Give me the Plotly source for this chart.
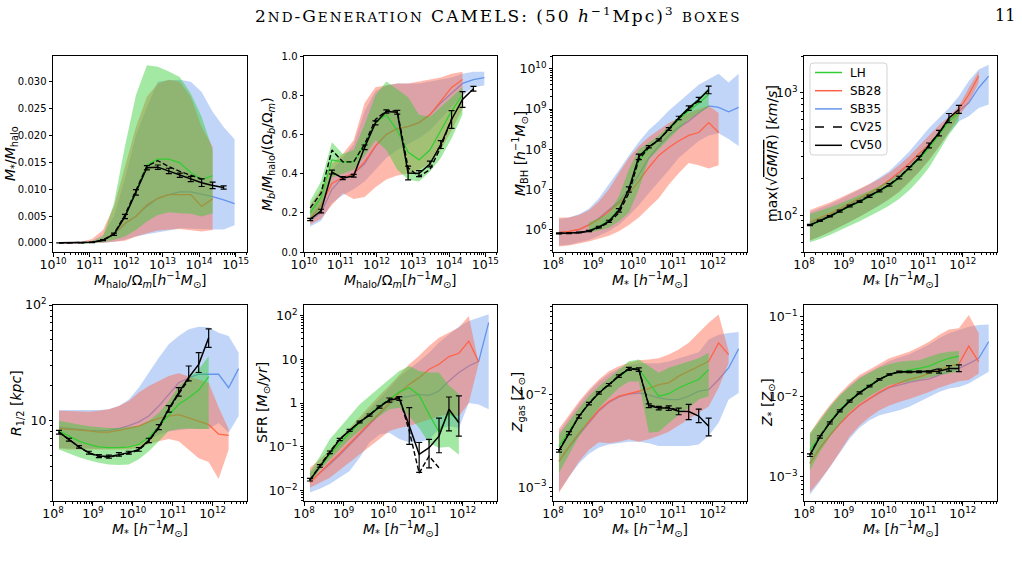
import plotly.graph_objects as go

W, H = 1022, 571

# ---------------- bins ----------------
HALO_BINS = [1.48e10, 2.95e10, 5.89e10, 1.17e11, 2.34e11, 4.68e11, 9.33e11, 1.86e12, 3.72e12,
             7.41e12, 1.48e13, 2.95e13, 5.89e13, 1.17e14, 2.34e14, 4.68e14, 9.33e14]
MSTAR_BINS = [1.41e8, 2.51e8, 4.47e8, 7.94e8, 1.41e9, 2.51e9, 4.47e9, 7.94e9, 1.41e10, 2.51e10,
              4.47e10, 7.94e10, 1.41e11, 2.51e11, 4.47e11, 7.94e11, 1.41e12, 2.51e12, 4.47e12]

# ---------------- panel 1: M*/Mhalo ----------------
p1_cv50 = [0.0, 0.0, 0.0, 0.0001, 0.0005, 0.0016, 0.0049, 0.0094, 0.0140, 0.0141, 0.0134, 0.0126, 0.0119, 0.0112, 0.0107, 0.0103]
p1_cv50_lo = [0.0, 0.0, 0.0, 0.00005, 0.0004, 0.0014, 0.0045, 0.0089, 0.0136, 0.0137, 0.0129, 0.0122, 0.0114, 0.0105, 0.0101, 0.0100]
p1_cv50_hi = [0.0, 0.0, 0.0, 0.00015, 0.0006, 0.0018, 0.0053, 0.0099, 0.0144, 0.0145, 0.0139, 0.0130, 0.0124, 0.0119, 0.0113, 0.0106]
p1_cv25 = [0.0, 0.0, 0.0, 0.0001, 0.0005, 0.0017, 0.0052, 0.0098, 0.0143, 0.0153, 0.0142, 0.0133, 0.0126, 0.0119]
p1_lh_mid = [None, None, 0.0, 0.0001, 0.0005, 0.0016, 0.0050, 0.0096, 0.0145, 0.0156, 0.0156, 0.0149, 0.0131, 0.0118, 0.0125]
p1_lh_lo = [None, None, 0.0, 0.0, 0.0001, 0.0006, 0.0012, 0.0024, 0.0040, 0.0052, 0.0057, 0.0055, 0.0054, 0.0049, 0.0055]
p1_lh_hi = [None, None, 0.0001, 0.0003, 0.0012, 0.0074, 0.0180, 0.0275, 0.0331, 0.0328, 0.0319, 0.0309, 0.0278, 0.0235, 0.0173]
p1_sb28_mid = [0.0, 0.0, 0.0, 0.0001, 0.0005, 0.0018, 0.0037, 0.0049, 0.0071, 0.0083, 0.0090, 0.0090, 0.0090, 0.0068, 0.0082]
p1_sb28_lo = [0.0, 0.0, 0.0, 0.0, 0.0, 0.0002, 0.0004, 0.0012, 0.0018, 0.0023, 0.0025, 0.0026, 0.0024, 0.0021, 0.0024]
p1_sb28_hi = [0.0, 0.0001, 0.0002, 0.0007, 0.0024, 0.0068, 0.0142, 0.0216, 0.0272, 0.0297, 0.0304, 0.0300, 0.0272, 0.0216, 0.0179]
p1_sb35_mid = [0.0, 0.0, 0.0, 0.0001, 0.0005, 0.0015, 0.0035, 0.0050, 0.0068, 0.0083, 0.0090, 0.0095, 0.0095, 0.0091, 0.0086, 0.0080, 0.0073]
p1_sb35_lo = [0.0, 0.0, 0.0, 0.0, 0.0, 0.0002, 0.0006, 0.0012, 0.0016, 0.0020, 0.0023, 0.0027, 0.0027, 0.0026, 0.0025, 0.0025, 0.0033]
p1_sb35_hi = [0.0, 0.0, 0.0001, 0.0004, 0.0015, 0.0050, 0.0120, 0.0200, 0.0253, 0.0300, 0.0303, 0.0304, 0.0300, 0.0281, 0.0244, 0.0216, 0.0193]

# ---------------- panel 2: baryon fraction ----------------
p2_cv50 = [0.167, 0.210, 0.408, 0.377, 0.389, 0.534, 0.659, 0.717, 0.713, 0.403, 0.400, 0.449, 0.548, 0.676, 0.778, 0.833]
p2_cv50_lo = [0.160, 0.200, 0.398, 0.369, 0.382, 0.522, 0.649, 0.709, 0.703, 0.368, 0.385, 0.434, 0.528, 0.631, 0.738, 0.821]
p2_cv50_hi = [0.172, 0.218, 0.418, 0.385, 0.396, 0.546, 0.669, 0.725, 0.723, 0.438, 0.415, 0.464, 0.568, 0.721, 0.818, 0.845]
p2_cv25 = [0.225, 0.300, 0.520, 0.460, 0.460, 0.550, 0.676, 0.720, 0.720, 0.430, 0.385, 0.420, 0.535, 0.680]
p2_lh_mid = [0.20, 0.28, 0.47, 0.46, 0.46, 0.55, 0.66, 0.70, 0.62, 0.51, 0.47, 0.52, 0.62, 0.72, 0.80]
p2_lh_lo = [0.15, 0.22, 0.38, 0.40, 0.42, 0.49, 0.57, 0.52, 0.42, 0.37, 0.36, 0.41, 0.48, 0.58, 0.70]
p2_lh_hi = [0.26, 0.36, 0.56, 0.50, 0.52, 0.65, 0.80, 0.87, 0.83, 0.79, 0.70, 0.69, 0.74, 0.79, 0.84]
p2_sb28_mid = [0.17, 0.24, 0.35, 0.38, 0.40, 0.46, 0.54, 0.60, 0.63, 0.64, 0.66, 0.70, 0.77, 0.84, 0.88]
p2_sb28_lo = [0.14, 0.17, 0.24, 0.30, 0.27, 0.28, 0.33, 0.37, 0.39, 0.40, 0.42, 0.45, 0.52, 0.62, 0.73]
p2_sb28_hi = [0.24, 0.32, 0.45, 0.50, 0.57, 0.76, 0.84, 0.85, 0.86, 0.86, 0.87, 0.88, 0.89, 0.91, 0.92]
p2_sb35_mid = [0.16, 0.20, 0.32, 0.38, 0.40, 0.45, 0.54, 0.60, 0.63, 0.64, 0.66, 0.70, 0.76, 0.81, 0.86, 0.88, 0.89]
p2_sb35_lo = [0.13, 0.16, 0.25, 0.29, 0.32, 0.36, 0.42, 0.48, 0.52, 0.55, 0.58, 0.62, 0.68, 0.74, 0.80, 0.84, 0.85]
p2_sb35_hi = [0.22, 0.28, 0.42, 0.48, 0.55, 0.72, 0.82, 0.85, 0.86, 0.86, 0.86, 0.87, 0.88, 0.89, 0.91, 0.92, 0.92]

# ---------------- panel 3: M_BH ----------------
p3_cv50 = [8.0e5, 8.1e5, 8.4e5, 9.2e5, 1.15e6, 1.6e6, 3.0e6, 1.0e7, 6.5e7, 1.15e8, 1.7e8, 3.2e8, 6.0e8, 1.05e9, 1.7e9, 3.0e9]
p3_cv50_lo = [7.8e5, 7.9e5, 8.2e5, 8.9e5, 1.1e6, 1.5e6, 2.7e6, 8.5e6, 5.5e7, 1.08e8, 1.6e8, 2.95e8, 5.4e8, 9.2e8, 1.5e9, 2.4e9]
p3_cv50_hi = [8.2e5, 8.3e5, 8.6e5, 9.5e5, 1.2e6, 1.7e6, 3.3e6, 1.15e7, 7.5e7, 1.22e8, 1.8e8, 3.45e8, 6.6e8, 1.2e9, 1.95e9, 3.7e9]
p3_cv25 = [8.0e5, 8.1e5, 8.4e5, 9.0e5, 1.1e6, 1.5e6, 2.6e6, 8.0e6, 5.5e7, 1.1e8, 1.7e8, 3.1e8, 5.8e8, 1.0e9, 1.6e9]
p3_lh_mid = [None, None, None, 9.5e5, 1.2e6, 1.7e6, 3.2e6, 9.5e6, 5.0e7, 1.1e8, 1.7e8, 3.0e8, 5.5e8, 9.0e8, 1.4e9, 2.3e9]
p3_lh_lo = [None, None, None, 8.3e5, 9.5e5, 1.1e6, 1.6e6, 2.6e6, 1.0e7, 5.5e7, 1.0e8, 1.8e8, 3.2e8, 5.5e8, 8.0e8, 1.1e9]
p3_lh_hi = [None, None, None, 1.5e6, 1.9e6, 2.6e6, 6.7e6, 3.1e7, 1.0e8, 1.45e8, 2.2e8, 3.8e8, 6.8e8, 1.15e9, 1.9e9, 3.4e9]
p3_sb28_mid = [8.5e5, 9.0e5, 1.0e6, 1.3e6, 1.8e6, 2.8e6, 4.5e6, 8.0e6, 1.6e7, 3.5e7, 7.0e7, 1.1e8, 1.6e8, 2.2e8, 2.6e8, 4.6e8, 2.6e8]
p3_sb28_lo = [3.8e5, 4.0e5, 4.5e5, 5.0e5, 6.0e5, 7.0e5, 9.0e5, 1.3e6, 2.0e6, 3.5e6, 6.0e6, 1.3e7, 2.5e7, 4.5e7, 4.0e7, 3.3e7, 4.0e7]
p3_sb28_hi = [2.0e6, 2.0e6, 2.3e6, 3.0e6, 5.0e6, 1.0e7, 2.5e7, 6.0e7, 1.2e8, 2.0e8, 3.0e8, 4.5e8, 6.0e8, 8.0e8, 1.0e9, 1.2e9, 8.0e8]
p3_sb35_mid = [8.5e5, 9.0e5, 1.0e6, 1.3e6, 1.9e6, 3.0e6, 5.0e6, 1.0e7, 2.3e7, 6.0e7, 1.2e8, 2.2e8, 3.5e8, 5.0e8, 8.0e8, 1.2e9, 1.1e9, 8.5e8, 1.1e9]
p3_sb35_lo = [4.0e5, 4.2e5, 4.8e5, 5.5e5, 7.0e5, 9.0e5, 1.3e6, 2.2e6, 4.0e6, 8.0e6, 1.5e7, 3.0e7, 6.0e7, 1.0e8, 1.6e8, 2.2e8, 2.5e8, 1.8e8, 1.2e8]
p3_sb35_hi = [1.8e6, 2.0e6, 2.4e6, 3.3e6, 6.0e6, 1.3e7, 3.0e7, 7.0e7, 1.5e8, 3.0e8, 5.0e8, 9.0e8, 1.5e9, 2.5e9, 4.0e9, 5.5e9, 7.5e9, 4.6e9, 7.5e9]

# ---------------- panel 4: Vmax ----------------
p4_cv50 = [83, 90, 98, 108, 119, 129, 143, 158, 177, 203, 242, 293, 372, 469, 624, 730]
p4_cv50_lo = [82, 89, 97, 106, 117, 127, 140, 155, 173, 198, 235, 283, 355, 445, 570, 680]
p4_cv50_hi = [84, 91, 99, 110, 121, 131, 146, 161, 181, 208, 249, 303, 389, 493, 678, 790]
p4_cv25 = [83, 90, 98, 108, 119, 130, 144, 159, 178, 205, 244, 296, 375, 470, 610]
p4_lh_mid = [82, 89, 97, 107, 117, 128, 141, 156, 174, 200, 238, 288, 353, 455, 585, 685]
p4_lh_lo = [60, 64, 69, 75, 82, 89, 98, 108, 120, 136, 160, 195, 245, 330, 455, 585]
p4_lh_hi = [102, 108, 116, 124, 134, 145, 158, 173, 192, 218, 255, 310, 385, 490, 620, 710]
p4_sb28_mid = [88, 95, 103, 113, 125, 137, 151, 168, 194, 225, 266, 320, 376, 469, 585, 730, 969, 1371]
p4_sb28_lo = [62, 67, 73, 80, 88, 97, 108, 120, 135, 155, 185, 225, 280, 360, 480, 640, 830, 1210]
p4_sb28_hi = [110, 118, 127, 138, 150, 164, 180, 198, 222, 257, 305, 370, 450, 545, 640, 780, 1100, 1500]
p4_sb35_mid = [86, 93, 101, 111, 122, 135, 150, 168, 192, 222, 262, 315, 380, 470, 590, 708, 828, 1100, 1371]
p4_sb35_lo = [62, 67, 73, 80, 88, 97, 108, 120, 136, 157, 188, 228, 285, 365, 470, 585, 643, 753, 802]
p4_sb35_hi = [106, 114, 123, 134, 147, 162, 180, 202, 230, 274, 331, 413, 515, 624, 753, 939, 1247, 1550, 1700]

# ---------------- panel 5: R1/2 ----------------
p5_cv50 = [7.9, 6.8, 5.9, 5.25, 4.9, 4.85, 5.07, 5.25, 5.6, 6.7, 8.75, 12.6, 17.4, 23.5, 30.6, 52.0]
p5_cv50_lo = [7.6, 6.6, 5.75, 5.1, 4.75, 4.7, 4.9, 5.1, 5.4, 6.4, 8.3, 11.8, 16.2, 22.0, 26.0, 43.0]
p5_cv50_hi = [8.2, 7.0, 6.05, 5.4, 5.05, 5.0, 5.25, 5.4, 5.8, 7.0, 9.2, 13.4, 19.2, 29.6, 38.6, 62.0]
p5_cv25 = [7.9, 6.8, 5.9, 5.2, 4.85, 4.8, 5.0, 5.2, 5.5, 6.6, 8.6, 12.3, 17.0, 22.5]
p5_lh_mid = [8.1, 7.3, 6.6, 6.2, 5.9, 5.8, 5.8, 5.9, 6.2, 7.1, 8.9, 10.9, 13.8, 15.7, 18.3, 23.9]
p5_lh_lo = [5.6, 5.2, 4.8, 4.5, 4.3, 4.15, 4.1, 4.15, 4.6, 5.4, 6.6, 8.1, 8.4, 8.5, 8.4, 8.4]
p5_lh_hi = [9.9, 9.5, 9.2, 8.9, 8.75, 8.6, 8.6, 8.75, 9.0, 9.9, 11.6, 14.7, 19.9, 23.5, 27.7, 36.0]
p5_sb28_mid = [8.5, 8.4, 8.2, 8.1, 7.9, 7.9, 8.2, 8.5, 8.9, 9.7, 10.4, 10.9, 11.2, 10.5, 9.9, 9.2, 7.6, 7.4]
p5_sb28_lo = [5.7, 5.6, 5.6, 5.6, 5.6, 5.6, 5.6, 5.6, 5.8, 6.2, 6.6, 6.9, 6.6, 5.6, 4.7, 4.35, 3.1, 5.6]
p5_sb28_hi = [12.1, 12.0, 11.9, 11.9, 12.1, 12.5, 13.3, 14.7, 17.4, 19.9, 21.9, 24.2, 25.6, 24.2, 22.6, 21.2, 13.0, 8.4]
p5_sb35_mid = [8.7, 8.5, 8.3, 8.2, 8.1, 8.2, 8.5, 9.0, 9.7, 10.9, 13.3, 16.8, 21.2, 23.4, 25.1, 25.1, 25.1, 19.2, 28.1]
p5_sb35_lo = [5.8, 5.7, 5.7, 5.7, 5.7, 5.7, 5.8, 6.0, 6.3, 6.8, 7.5, 8.0, 8.2, 8.4, 8.4, 8.4, 9.5, 7.8, 10.9]
p5_sb35_hi = [12.3, 12.3, 12.3, 12.3, 12.3, 12.5, 13.3, 15.2, 19.2, 25.9, 34.9, 45.6, 53.9, 61.5, 64.9, 64.0, 57.5, 53.9, 38.6]

# ---------------- panel 6: SFR ----------------
p6_cv50 = [0.0173, 0.036, 0.075, 0.147, 0.237, 0.367, 0.53, 0.81, 1.17, 1.26, 0.30, 0.067, 0.095, 0.175, 0.72, 0.355]
p6_cv50_lo = [0.0165, 0.034, 0.070, 0.138, 0.225, 0.35, 0.50, 0.76, 1.05, 1.15, 0.113, 0.026, 0.033, 0.073, 0.23, 0.175]
p6_cv50_hi = [0.019, 0.039, 0.080, 0.156, 0.25, 0.385, 0.56, 0.86, 1.3, 1.4, 0.78, 0.125, 0.147, 0.45, 1.37, 1.45]
p6_cv25 = [0.0175, 0.037, 0.077, 0.15, 0.24, 0.37, 0.54, 0.83, 1.2, 1.35, 0.23, 0.025, 0.061, 0.033]
p6_lh_mid = [0.0173, 0.034, 0.065, 0.12, 0.21, 0.35, 0.55, 0.86, 1.2, 1.8, 2.24, 1.5, 0.55, 0.22, 0.6, 0.4]
p6_lh_lo = [0.015, 0.030, 0.051, 0.087, 0.148, 0.23, 0.35, 0.5, 0.72, 0.78, 0.5, 0.27, 0.12, 0.095, 0.1, 0.066]
p6_lh_hi = [0.027, 0.06, 0.148, 0.27, 0.5, 0.93, 1.45, 2.2, 3.5, 5.4, 7.0, 5.4, 5.0, 5.0, 2.5, 1.6]
p6_sb28_mid = [0.015, 0.026, 0.043, 0.07, 0.12, 0.2, 0.35, 0.58, 1.0, 1.7, 2.67, 3.8, 5.9, 7.7, 11.5, 13.7, 26.0, 8.7]
p6_sb28_lo = [0.0115, 0.015, 0.0195, 0.029, 0.043, 0.065, 0.1, 0.15, 0.23, 0.27, 0.3, 0.35, 0.42, 0.5, 0.55, 0.5, 1.0, 8.0]
p6_sb28_hi = [0.033, 0.052, 0.087, 0.16, 0.27, 0.48, 0.85, 1.5, 2.5, 4.5, 7.7, 12.0, 20.0, 31.0, 41.0, 53.0, 98.0, 9.5]
p6_sb35_mid = [0.016, 0.025, 0.04, 0.065, 0.11, 0.19, 0.33, 0.55, 0.95, 1.3, 1.45, 1.58, 1.5, 1.88, 3.2, 5.0, 7.0, 9.0, 69.0]
p6_sb35_lo = [0.009, 0.011, 0.014, 0.02, 0.028, 0.056, 0.125, 0.19, 0.21, 0.15, 0.125, 0.125, 0.147, 0.25, 0.3, 0.27, 1.0, 0.93, 0.72]
p6_sb35_hi = [0.025, 0.042, 0.07, 0.13, 0.22, 0.4, 0.7, 1.2, 2.2, 4.0, 5.9, 9.0, 14.0, 24.0, 37.0, 55.0, 75.0, 90.0, 107.0]

# ---------------- panel 7: Z_gas ----------------
p7_cv50 = [0.00248, 0.00386, 0.00586, 0.00805, 0.0105, 0.0129, 0.016, 0.0192, 0.0188, 0.00765, 0.00722, 0.0072, 0.00664, 0.0066, 0.0059, 0.00457]
p7_cv50_lo = [0.0024, 0.0037, 0.0056, 0.0078, 0.0102, 0.0125, 0.0155, 0.0185, 0.018, 0.0073, 0.0069, 0.0068, 0.0061, 0.0054, 0.0050, 0.0036]
p7_cv50_hi = [0.00256, 0.0040, 0.0061, 0.0083, 0.0108, 0.0133, 0.0165, 0.0199, 0.0196, 0.0080, 0.0075, 0.0076, 0.0072, 0.0079, 0.0070, 0.0056]
p7_cv25 = [0.0025, 0.0039, 0.0059, 0.0081, 0.0106, 0.013, 0.0162, 0.0193, 0.019, 0.0078, 0.0073, 0.0073, 0.0068]
p7_lh_mid = [0.00277, 0.0040, 0.0059, 0.0081, 0.0105, 0.0129, 0.0158, 0.0189, 0.019, 0.0135, 0.0097, 0.0103, 0.0119, 0.0133, 0.0147, 0.0188]
p7_lh_lo = [0.00142, 0.00225, 0.00356, 0.0052, 0.0072, 0.0093, 0.0119, 0.014, 0.014, 0.0039, 0.004, 0.005, 0.0061, 0.0072, 0.0089, 0.0097]
p7_lh_hi = [0.0037, 0.0052, 0.0072, 0.0097, 0.0124, 0.0153, 0.0188, 0.0232, 0.0242, 0.0205, 0.0174, 0.0197, 0.0214, 0.0232, 0.025, 0.0286]
p7_sb28_mid = [0.0019, 0.00277, 0.00386, 0.0052, 0.0069, 0.0085, 0.0097, 0.0103, 0.011, 0.0117, 0.0129, 0.0135, 0.016, 0.0181, 0.0205, 0.0232, 0.0367, 0.0274]
p7_sb28_lo = [0.00087, 0.0013, 0.0019, 0.00255, 0.00306, 0.003, 0.0031, 0.0033, 0.0031, 0.0033, 0.0036, 0.004, 0.0046, 0.0054, 0.0064, 0.0075, 0.012, 0.022]
p7_sb28_hi = [0.0043, 0.0061, 0.0085, 0.0114, 0.0147, 0.0181, 0.0205, 0.0223, 0.0238, 0.0242, 0.025, 0.0274, 0.0311, 0.0367, 0.0472, 0.0607, 0.0747, 0.030]
p7_sb35_mid = [0.0019, 0.0027, 0.0037, 0.005, 0.0067, 0.0083, 0.0095, 0.0102, 0.0105, 0.0100, 0.0093, 0.0089, 0.0089, 0.0097, 0.011, 0.0114, 0.0147, 0.0196, 0.0316]
p7_sb35_lo = [0.0009, 0.0013, 0.0018, 0.0023, 0.0027, 0.0029, 0.003, 0.0031, 0.0031, 0.003, 0.0028, 0.0028, 0.0028, 0.0028, 0.0029, 0.0036, 0.005, 0.0089, 0.0105]
p7_sb35_hi = [0.004, 0.0057, 0.008, 0.0108, 0.014, 0.017, 0.0195, 0.021, 0.022, 0.022, 0.022, 0.023, 0.025, 0.027, 0.029, 0.040, 0.045, 0.047, 0.048]

# ---------------- panel 8: Z_* ----------------
p8_cv50 = [0.00187, 0.00316, 0.00473, 0.00668, 0.00883, 0.0112, 0.0136, 0.0165, 0.019, 0.0205, 0.0205, 0.0205, 0.0205, 0.0209, 0.0226, 0.0226]
p8_cv50_lo = [0.0018, 0.00305, 0.00458, 0.0065, 0.0086, 0.0109, 0.0133, 0.0161, 0.0186, 0.0201, 0.0201, 0.0200, 0.0199, 0.0198, 0.0209, 0.0206]
p8_cv50_hi = [0.00194, 0.00327, 0.00488, 0.00686, 0.0091, 0.0115, 0.0139, 0.0169, 0.0194, 0.0209, 0.0209, 0.0210, 0.0211, 0.0222, 0.0245, 0.0250]
p8_cv25 = [0.0019, 0.0032, 0.0048, 0.0067, 0.0089, 0.0113, 0.0137, 0.0166, 0.0191, 0.0206, 0.0206, 0.0207, 0.0208, 0.0226]
p8_lh_mid = [0.00215, 0.0033, 0.0049, 0.0069, 0.0091, 0.0115, 0.014, 0.0165, 0.0192, 0.0205, 0.0215, 0.0226, 0.0242, 0.0274, 0.0302, 0.0323]
p8_lh_lo = [0.00121, 0.00205, 0.00316, 0.0046, 0.0065, 0.0083, 0.0102, 0.0121, 0.014, 0.0149, 0.0154, 0.0162, 0.0174, 0.0187, 0.0196, 0.0205]
p8_lh_hi = [0.0035, 0.0051, 0.0075, 0.0105, 0.0133, 0.017, 0.02, 0.0233, 0.0256, 0.0274, 0.0282, 0.0287, 0.0316, 0.0348, 0.0365, 0.0372]
p8_sb28_mid = [0.00147, 0.0023, 0.0033, 0.0046, 0.0062, 0.0079, 0.0095, 0.0115, 0.0133, 0.0149, 0.0165, 0.0178, 0.0196, 0.022, 0.0242, 0.0256, 0.043, 0.0274]
p8_sb28_lo = [0.00065, 0.00091, 0.00133, 0.00205, 0.0032, 0.0044, 0.0056, 0.0068, 0.0078, 0.0086, 0.0094, 0.0103, 0.0115, 0.013, 0.0143, 0.0156, 0.0162, 0.0196]
p8_sb28_hi = [0.0035, 0.0054, 0.0079, 0.011, 0.0147, 0.0187, 0.022, 0.0256, 0.0302, 0.0332, 0.0365, 0.042, 0.0487, 0.059, 0.0694, 0.0715, 0.105, 0.062]
p8_sb35_mid = [0.0015, 0.0023, 0.0033, 0.0046, 0.0061, 0.0078, 0.0094, 0.0112, 0.013, 0.0142, 0.0152, 0.016, 0.0168, 0.0187, 0.0205, 0.0226, 0.026, 0.0302, 0.0487]
p8_sb35_lo = [0.0006, 0.00088, 0.0013, 0.002, 0.003, 0.0041, 0.0051, 0.0059, 0.0064, 0.0068, 0.0075, 0.0087, 0.01, 0.0115, 0.0127, 0.0133, 0.0147, 0.0174, 0.0205]
p8_sb35_hi = [0.0033, 0.005, 0.0074, 0.0103, 0.0138, 0.0175, 0.0205, 0.024, 0.028, 0.031, 0.034, 0.039, 0.045, 0.054, 0.062, 0.068, 0.075, 0.079, 0.080]

# ---------------- legend ----------------
LEGEND_LABELS = ["LH", "SB28", "SB35", "CV25", "CV50"]

# ---------------- styling ----------------
LH_LINE, LH_FILL = "#32cd32", "rgba(50,205,50,0.45)"
SB28_LINE, SB28_FILL = "#ff6347", "rgba(255,99,71,0.45)"
SB35_LINE, SB35_FILL = "#6495ed", "rgba(100,149,237,0.40)"
FONT = "DejaVu Sans"
DASH = "5px,2.5px"

MSTAR_TITLE = "<i>M</i><sub>*</sub> [<i>h</i><sup>−1</sup><i>M</i><sub>⊙</sub>]"
HALO_TITLE = "<i>M</i><sub>halo</sub>/Ω<sub><i>m</i></sub>[<i>h</i><sup>−1</sup><i>M</i><sub>⊙</sub>]"

PANELS = [
    dict(bins=HALO_BINS, xr=[10, 15.31], ylog=False, yr=[-0.0017, 0.0348], dtick=0.005, fmt=".3f",
         xt=HALO_TITLE, yt="<i>M</i><sub>*</sub>/<i>M</i><sub>halo</sub>",
         cv50=(p1_cv50, p1_cv50_lo, p1_cv50_hi), cv25=p1_cv25,
         lh=(p1_lh_mid, p1_lh_lo, p1_lh_hi), sb28=(p1_sb28_mid, p1_sb28_lo, p1_sb28_hi),
         sb35=(p1_sb35_mid, p1_sb35_lo, p1_sb35_hi)),
    dict(bins=HALO_BINS, xr=[10, 15.32], ylog=False, yr=[0, 1.0], dtick=0.2, fmt=".1f",
         xt=HALO_TITLE, yt="<i>M</i><sub><i>b</i></sub>/<i>M</i><sub>halo</sub>/(Ω<sub><i>b</i></sub>/Ω<sub><i>m</i></sub>)",
         cv50=(p2_cv50, p2_cv50_lo, p2_cv50_hi), cv25=p2_cv25,
         lh=(p2_lh_mid, p2_lh_lo, p2_lh_hi), sb28=(p2_sb28_mid, p2_sb28_lo, p2_sb28_hi),
         sb35=(p2_sb35_mid, p2_sb35_lo, p2_sb35_hi)),
    dict(bins=MSTAR_BINS, xr=[8, 12.86], ylog=True, yr=[5.44, 10.32],
         xt=MSTAR_TITLE, yt="<i>M</i><sub>BH</sub> [<i>h</i><sup>−1</sup><i>M</i><sub>⊙</sub>]",
         cv50=(p3_cv50, p3_cv50_lo, p3_cv50_hi), cv25=p3_cv25,
         lh=(p3_lh_mid, p3_lh_lo, p3_lh_hi), sb28=(p3_sb28_mid, p3_sb28_lo, p3_sb28_hi),
         sb35=(p3_sb35_mid, p3_sb35_lo, p3_sb35_hi)),
    dict(bins=MSTAR_BINS, xr=[8, 12.86], ylog=True, yr=[1.699, 3.301],
         xt=MSTAR_TITLE, yt="max(√<span style='text-decoration:overline'><i>GM</i>/<i>R</i></span>) [<i>km</i>/<i>s</i>]",
         cv50=(p4_cv50, p4_cv50_lo, p4_cv50_hi), cv25=p4_cv25,
         lh=(p4_lh_mid, p4_lh_lo, p4_lh_hi), sb28=(p4_sb28_mid, p4_sb28_lo, p4_sb28_hi),
         sb35=(p4_sb35_mid, p4_sb35_lo, p4_sb35_hi)),
    dict(bins=MSTAR_BINS, xr=[8, 12.86], ylog=True, yr=[0.301, 2.0],
         xt=MSTAR_TITLE, yt="<i>R</i><sub>1/2</sub> [<i>kpc</i>]",
         cv50=(p5_cv50, p5_cv50_lo, p5_cv50_hi), cv25=p5_cv25,
         lh=(p5_lh_mid, p5_lh_lo, p5_lh_hi), sb28=(p5_sb28_mid, p5_sb28_lo, p5_sb28_hi),
         sb35=(p5_sb35_mid, p5_sb35_lo, p5_sb35_hi)),
    dict(bins=MSTAR_BINS, xr=[8, 12.86], ylog=True, yr=[-2.24, 2.24],
         xt=MSTAR_TITLE, yt="SFR [<i>M</i><sub>⊙</sub>/<i>yr</i>]",
         cv50=(p6_cv50, p6_cv50_lo, p6_cv50_hi), cv25=p6_cv25,
         lh=(p6_lh_mid, p6_lh_lo, p6_lh_hi), sb28=(p6_sb28_mid, p6_sb28_lo, p6_sb28_hi),
         sb35=(p6_sb35_mid, p6_sb35_lo, p6_sb35_hi)),
    dict(bins=MSTAR_BINS, xr=[8, 12.86], ylog=True, yr=[-3.15, -1.025],
         xt=MSTAR_TITLE, yt="<i>Z</i><sub>gas</sub> [<i>Z</i><sub>⊙</sub>]",
         cv50=(p7_cv50, p7_cv50_lo, p7_cv50_hi), cv25=p7_cv25,
         lh=(p7_lh_mid, p7_lh_lo, p7_lh_hi), sb28=(p7_sb28_mid, p7_sb28_lo, p7_sb28_hi),
         sb35=(p7_sb35_mid, p7_sb35_lo, p7_sb35_hi)),
    dict(bins=MSTAR_BINS, xr=[8, 12.86], ylog=True, yr=[-3.30, -0.854],
         xt=MSTAR_TITLE, yt="<i>Z</i><sub>*</sub> [<i>Z</i><sub>⊙</sub>]",
         cv50=(p8_cv50, p8_cv50_lo, p8_cv50_hi), cv25=p8_cv25,
         lh=(p8_lh_mid, p8_lh_lo, p8_lh_hi), sb28=(p8_sb28_mid, p8_sb28_lo, p8_sb28_hi),
         sb35=(p8_sb35_mid, p8_sb35_lo, p8_sb35_hi)),
]

# pixel layout of the panels (left, right, top, bottom)
COLS = [(53, 247), (304, 497), (553, 747), (804, 997)]
ROWS = [(56, 252), (305, 501)]
YTITLE_X = [11, 268, 520, 772, 17, 263, 518, 768]

fig = go.Figure()


def axn(i):
    return "" if i == 0 else str(i + 1)


def pts(xs, *ys):
    out = []
    for k, x in enumerate(xs):
        vals = [y[k] if k < len(y) else None for y in ys]
        if all(v is not None for v in vals):
            out.append((x, *vals))
    return out


def add_band(i, xs, lo, hi, fill):
    p = pts(xs, lo, hi)
    X = [q[0] for q in p]
    L = [q[1] for q in p]
    U = [q[2] for q in p]
    fig.add_trace(go.Scatter(x=X + X[::-1], y=U + L[::-1], fill="toself", fillcolor=fill,
                             mode="lines", line=dict(width=0), hoverinfo="skip", showlegend=False,
                             xaxis="x" + axn(i), yaxis="y" + axn(i)))


def add_line(i, xs, mid, color, width, dash="solid"):
    p = pts(xs, mid)
    fig.add_trace(go.Scatter(x=[q[0] for q in p], y=[q[1] for q in p], mode="lines",
                             line=dict(color=color, width=width, dash=dash), showlegend=False,
                             xaxis="x" + axn(i), yaxis="y" + axn(i)))


for i, P in enumerate(PANELS):
    xs = P["bins"]
    add_band(i, xs, P["sb35"][1], P["sb35"][2], SB35_FILL)
    add_line(i, xs, P["sb35"][0], SB35_LINE, 1.3)
    add_band(i, xs, P["sb28"][1], P["sb28"][2], SB28_FILL)
    add_line(i, xs, P["sb28"][0], SB28_LINE, 1.3)
    add_band(i, xs, P["lh"][1], P["lh"][2], LH_FILL)
    add_line(i, xs, P["lh"][0], LH_LINE, 1.3)
    add_line(i, xs, P["cv25"], "black", 1.4, dash=DASH)
    mid, elo, ehi = P["cv50"]
    p = pts(xs, mid, elo, ehi)
    fig.add_trace(go.Scatter(
        x=[q[0] for q in p], y=[q[1] for q in p], mode="lines",
        line=dict(color="black", width=1.5), showlegend=False,
        error_y=dict(type="data", symmetric=False,
                     array=[q[3] - q[1] for q in p], arrayminus=[q[1] - q[2] for q in p],
                     color="black", thickness=1.2, width=3),
        xaxis="x" + axn(i), yaxis="y" + axn(i)))

layout = dict(width=W, height=H, margin=dict(l=0, r=0, t=0, b=0, autoexpand=False), autosize=False,
              paper_bgcolor="white", plot_bgcolor="white", font=dict(family=FONT, color="black"),
              showlegend=False, template="none")
annotations = []
shapes = []
for i, P in enumerate(PANELS):
    c = COLS[i % 4]
    r = ROWS[i // 4]
    xa = dict(type="log", range=P["xr"], domain=[c[0] / W, c[1] / W], anchor="y" + axn(i),
              automargin=False,
              showline=True, mirror=True, linecolor="black", linewidth=1, showgrid=False,
              zeroline=False, ticks="outside", ticklen=3.5, tickwidth=0.8, tickcolor="black",
              dtick=1, exponentformat="power", tickfont=dict(family=FONT, size=10, color="black"),
              ticklabelstandoff=-2,
              minor=dict(ticks="outside", ticklen=2, tickwidth=0.6, tickcolor="black", showgrid=False))
    ya = dict(domain=[1 - r[1] / H, 1 - r[0] / H], anchor="x" + axn(i), range=P["yr"],
              automargin=False,
              showline=True, mirror=True, linecolor="black", linewidth=1, showgrid=False,
              zeroline=False, ticks="outside", ticklen=3.5, tickwidth=0.8, tickcolor="black",
              tickfont=dict(family=FONT, size=10, color="black"))
    if P["ylog"]:
        ya.update(type="log", dtick=1, exponentformat="power",
                  minor=dict(ticks="outside", ticklen=2, tickwidth=0.6, tickcolor="black", showgrid=False))
    else:
        ya.update(type="linear", dtick=P["dtick"], tick0=0, tickformat=P["fmt"])
    layout["xaxis" + axn(i)] = xa
    layout["yaxis" + axn(i)] = ya
    # axis titles
    annotations.append(dict(text=P["xt"], x=(c[0] + c[1]) / 2 / W, y=1 - (r[1] + 28) / H,
                            xref="paper", yref="paper", showarrow=False, xanchor="center",
                            yanchor="middle", font=dict(family=FONT, size=14, color="black")))
    annotations.append(dict(text=P["yt"], x=YTITLE_X[i] / W, y=1 - (r[0] + r[1]) / 2 / H,
                            xref="paper", yref="paper", showarrow=False, xanchor="center",
                            yanchor="middle", textangle=-90,
                            font=dict(family=FONT, size=14, color="black")))

# legend drawn in panel 4 (rounded box, line samples, labels)
LX0, LX1, LY0, LY1, RAD = 810, 887, 63, 155, 3


def px(x):
    return x / W


def py(y):
    return 1 - y / H


box_path = ("M {a},{b} L {c},{b} Q {d},{b} {d},{e} L {d},{f} Q {d},{g} {c},{g} "
            "L {a},{g} Q {h},{g} {h},{f} L {h},{e} Q {h},{b} {a},{b} Z").format(
    a=px(LX0 + RAD), b=py(LY0), c=px(LX1 - RAD), d=px(LX1), e=py(LY0 + RAD),
    f=py(LY1 - RAD), g=py(LY1), h=px(LX0))
shapes.append(dict(type="path", xref="paper", yref="paper", path=box_path,
                   line=dict(color="#d3d3d3", width=1), fillcolor="rgba(255,255,255,0.8)", layer="above"))
LEG_STYLES = [(LH_LINE, 1.5, "solid"), (SB28_LINE, 1.5, "solid"), (SB35_LINE, 1.5, "solid"),
              ("black", 1.5, "dash"), ("black", 1.5, "solid")]
for k, (lab, (col, lw, dsh)) in enumerate(zip(LEGEND_LABELS, LEG_STYLES)):
    yc = 72.5 + 18.2 * k
    shapes.append(dict(type="line", xref="paper", yref="paper", x0=px(815), x1=px(842),
                       y0=py(yc), y1=py(yc), line=dict(color=col, width=lw, dash=dsh),
                       layer="above"))
    annotations.append(dict(text=lab, x=px(848), y=py(yc), xref="paper", yref="paper",
                            showarrow=False, xanchor="left", yanchor="middle",
                            font=dict(family=FONT, size=12, color="black")))

SC = "font-size:13.5px"
LS = "letter-spacing:2px"
annotations.append(dict(
    text=("<span style='%s'>2<span style='%s'>ND</span>-G<span style='%s'>ENERATION</span> CAMELS: "
          "(50 <i>h</i><sup>−1</sup>Mpc)<sup>3</sup> <span style='%s'>BOXES</span></span>") % (LS, SC, SC, SC),
    x=498 / W, y=1 - 15 / H, xref="paper", yref="paper", showarrow=False, xanchor="center",
    yanchor="middle", font=dict(family="DejaVu Serif", size=17, color="black")))
annotations.append(dict(text="11", x=1017 / W, y=1 - 15 / H, xref="paper", yref="paper",
                        showarrow=False, xanchor="right", yanchor="middle",
                        font=dict(family="DejaVu Serif", size=16, color="black")))
layout["annotations"] = annotations
layout["shapes"] = shapes
fig.update_layout(**layout)
fig.write_html("out.html")
